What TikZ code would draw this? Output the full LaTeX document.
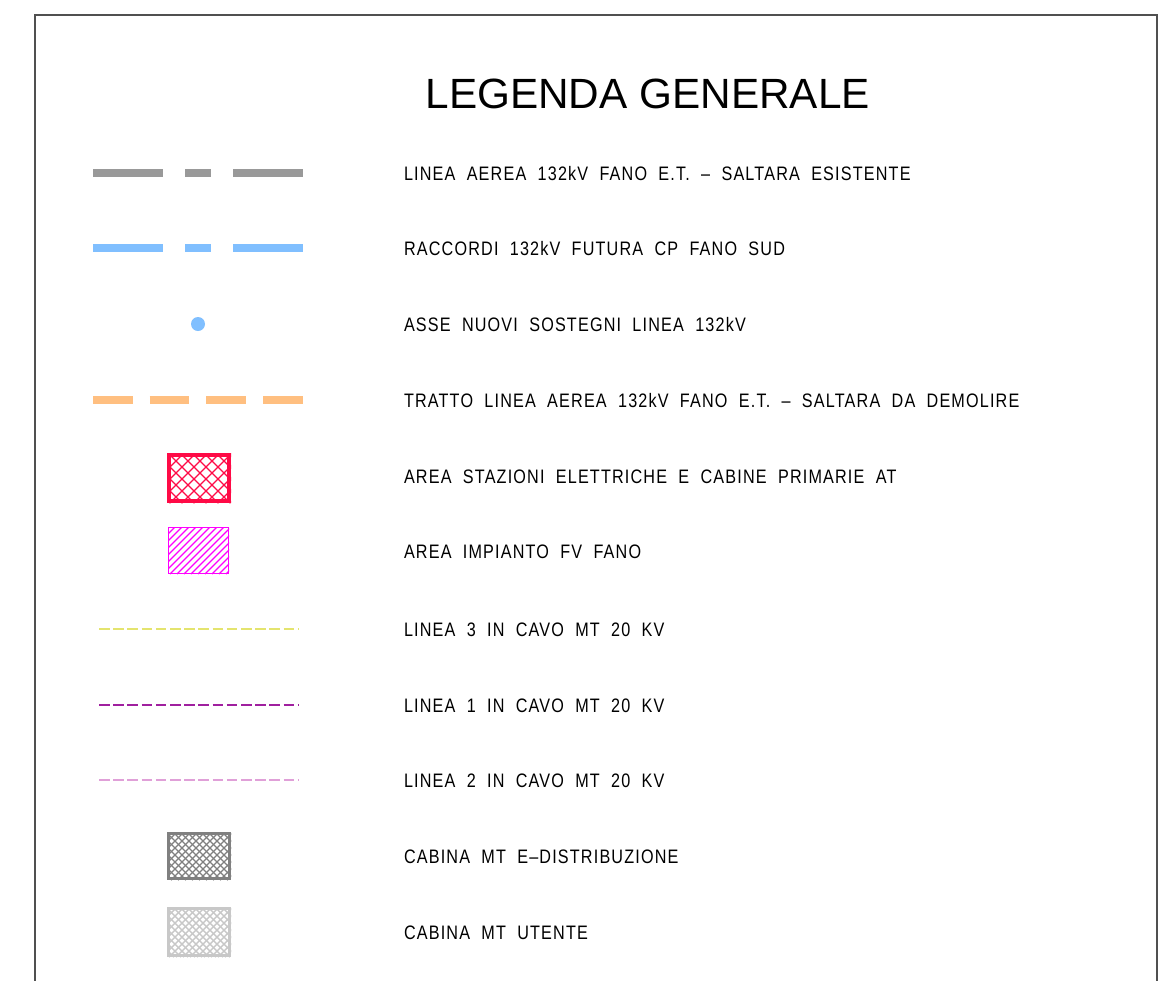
\documentclass[tikz,border=0pt]{standalone}
\usepackage{fontspec}
\setmainfont{Liberation Sans}
\newfontfamily\cadfont{Liberation Sans}[FakeStretch=0.83, WordSpace=2.0, LetterSpace=6]
\definecolor{cgray}{HTML}{999999}
\definecolor{cblue}{HTML}{80BFFF}
\definecolor{corange}{HTML}{FFBF80}
\definecolor{cred}{HTML}{FF0A46}
\definecolor{cmag}{HTML}{FF00FF}
\definecolor{cyellow}{HTML}{E4E46E}
\definecolor{cpurple}{HTML}{A0209F}
\definecolor{cpink}{HTML}{E0A0D8}
\definecolor{cdgray}{HTML}{808080}
\definecolor{clgray}{HTML}{C8C8C8}
\definecolor{cframe}{HTML}{505050}
\tikzset{
  lbl/.style={anchor=base west, inner sep=0pt, outer sep=0pt, font=\cadfont\fontsize{19.5}{20}\selectfont},
  ttl/.style={anchor=base west, inner sep=0pt, outer sep=0pt, font=\fontsize{42.3}{44}\selectfont},
  bigdash/.style={line width=8pt, dash pattern=on 70pt off 22pt on 26pt off 22pt on 70pt off 100pt},
  orgdash/.style={line width=8pt, corange, dash pattern=on 39.5pt off 17.2pt},
  finedash/.style={line width=2pt, dash pattern=on 10.6pt off 3.6pt},
}
\begin{document}
\begin{tikzpicture}[x=1pt,y=-1pt]
\useasboundingbox (0,0) rectangle (1158,980);
% frame
\draw[line width=1.4pt, cframe] (35,1000) -- (35,15) -- (1157,15) -- (1157,1000);
% title
\node[ttl] (title) at (425.5,108) {LEGENDA GENERALE};
% labels
\node[lbl] (l1) at (404,180) {LINEA AEREA 132kV FANO E.T. – SALTARA ESISTENTE};
\node[lbl] (l2) at (404,255) {RACCORDI 132kV FUTURA CP FANO SUD};
\node[lbl] (l3) at (404,331) {ASSE NUOVI SOSTEGNI LINEA 132kV};
\node[lbl] (l4) at (404,407) {TRATTO LINEA AEREA 132kV FANO E.T. – SALTARA DA DEMOLIRE};
\node[lbl] (l5) at (404,483) {AREA STAZIONI ELETTRICHE E CABINE PRIMARIE AT};
\node[lbl] (l6) at (404,558) {AREA IMPIANTO FV FANO};
\node[lbl] (l7) at (404,636) {LINEA 3 IN CAVO MT 20 KV};
\node[lbl] (l8) at (404,712) {LINEA 1 IN CAVO MT 20 KV};
\node[lbl] (l9) at (404,787) {LINEA 2 IN CAVO MT 20 KV};
\node[lbl] (l10) at (404,863) {CABINA MT E–DISTRIBUZIONE};
\node[lbl] (l11) at (404,939) {CABINA MT UTENTE};
% symbols
\draw[bigdash, cgray] (93,172.5) -- (303,172.5);
\draw[bigdash, cblue] (93,248) -- (303,248);
\fill[cblue] (198,324) circle (7pt);
\draw[orgdash] (93,399.5) -- (304,399.5);
% red crosshatch
\begin{scope}
\clip (167,453) rectangle (231,503);
\foreach \s in {120,132,...,240} {
  \draw[cred, line width=1.3pt] (\s,453) -- (\s+50,503);
  \draw[cred, line width=1.3pt] (\s+40,453) -- (\s-10,503);
}
\end{scope}
\draw[cred, line width=4pt] (169,455) rectangle (229,501);
% magenta hatch
\begin{scope}
\clip (168,527) rectangle (229,574);
\foreach \s in {168,175,...,280} {
  \draw[cmag, line width=1.1pt] (\s,527) -- (\s-47,574);
}
\end{scope}
\draw[cmag, line width=1.3pt] (168.5,527.5) rectangle (228.5,573.5);
% fine dashed lines
\draw[finedash, cyellow] (99,628.5) -- (298,628.5);
\draw[finedash, cpurple] (99,704.5) -- (298,704.5);
\draw[finedash, cpink] (99,780) -- (298,780);
% dark gray crosshatch
\begin{scope}
\clip (167,832) rectangle (231,880);
\foreach \s in {110,117,...,240} {
  \draw[cdgray, line width=1.1pt] (\s,832) -- (\s+48,880);
  \draw[cdgray, line width=1.1pt] (\s+60,832) -- (\s+12,880);
}
\end{scope}
\draw[cdgray, line width=3pt] (168.5,833.5) rectangle (229.5,878.5);
% light gray crosshatch
\begin{scope}
\clip (167,907) rectangle (231,957);
\foreach \s in {110,117,...,240} {
  \draw[clgray, line width=1.4pt] (\s,907) -- (\s+50,957);
  \draw[clgray, line width=1.4pt] (\s+60,907) -- (\s+10,957);
}
\end{scope}
\draw[clgray, line width=3pt] (168.5,908.5) rectangle (229.5,955.5);
\end{tikzpicture}
\end{document}
